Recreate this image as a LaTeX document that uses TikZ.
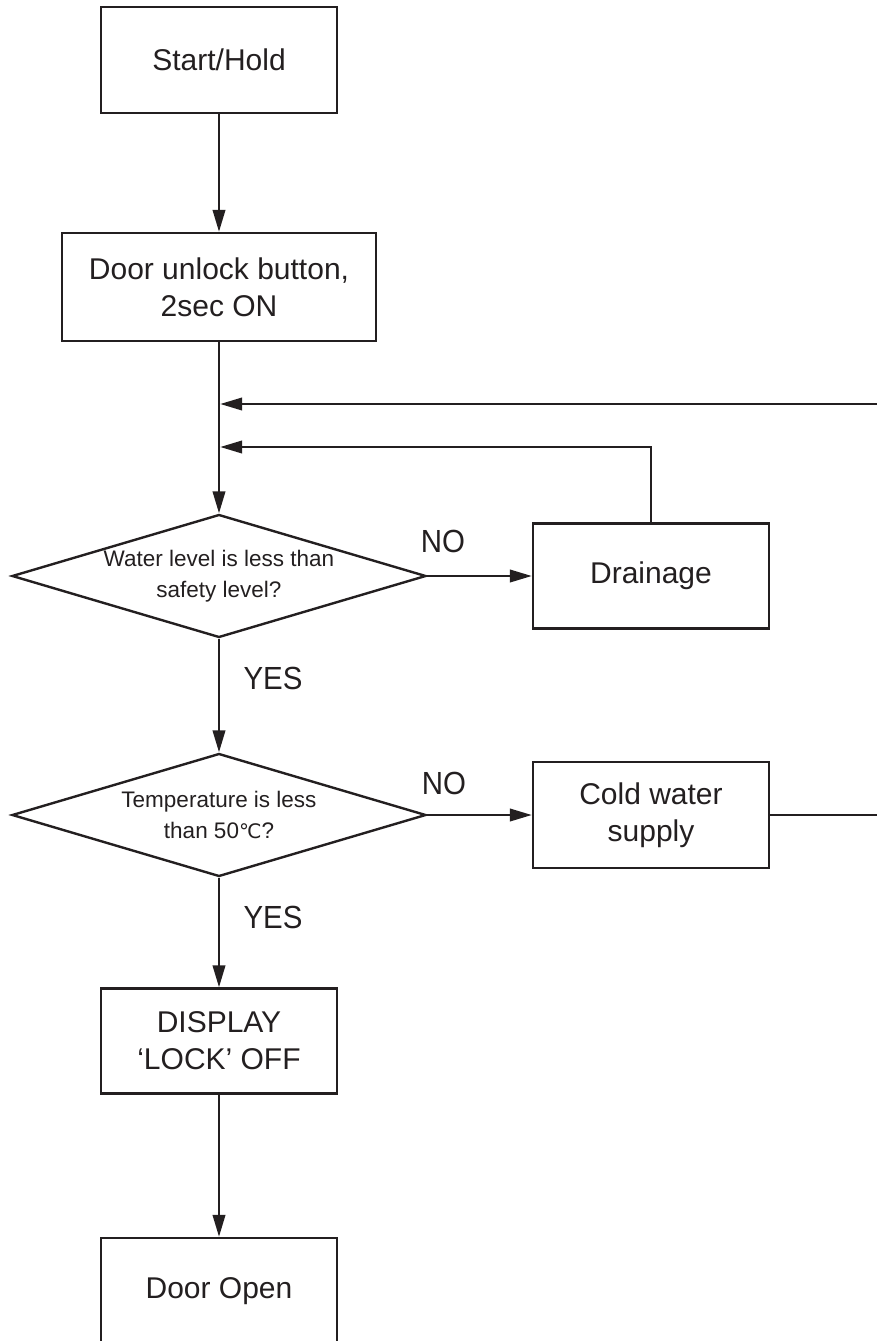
\documentclass[tikz,border=0pt]{standalone}
\usepackage{fontspec}
\setmainfont{Liberation Sans}
\newfontfamily\tagfont[FakeStretch=0.92]{Liberation Sans}
\newfontfamily\degfont{DejaVu Sans}
\usetikzlibrary{arrows.meta,shapes.geometric}
\definecolor{fink}{HTML}{231F20}

\begin{document}
\begin{tikzpicture}[x=1pt, y=-1pt, line width=2.4pt, color=fink,
  box/.style={draw, rectangle, minimum width=236pt, minimum height=106pt,
    inner sep=0pt, align=center, font=\fontsize{30}{37}\selectfont},
  decision/.style={draw, diamond, aspect=3.37, minimum width=414pt,
    minimum height=123pt, inner sep=0pt, align=center,
    font=\fontsize{22.5}{31.5}\selectfont},
  tag/.style={inner sep=0pt, font=\tagfont\fontsize{32}{36}\selectfont},
  flow/.style={-{Triangle[length=22pt,width=12.5pt]}}]
\useasboundingbox (0,0) rectangle (877,1341);
% ---- main column ----
\node[box] (start) at (219,60) {Start/Hold};
\node[box, minimum width=314pt, minimum height=108pt] (unlock) at (219,287)
   {Door unlock button,\\2sec ON};
\node[decision] (qlevel) at (219,576) {Water level is less than\\safety level?};
\node[decision] (qtemp) at (219,815)
   {Temperature is less\\than 50{\degfont\fontsize{20}{31.5}\selectfont ℃}?};
\node[box, minimum height=105pt] (display) at (219,1041) {DISPLAY\\‘LOCK’ OFF};
\node[box] (open) at (219,1291) {Door Open};
% ---- side branch ----
\node[box, minimum height=105pt] (drain) at (651,576) {Drainage};
\node[box] (cold) at (651,815) {Cold water\\supply};
% ---- answers ----
\node[tag] (nolevel) at (443,541) {NO};
\node[tag] (yeslevel) at (273,678) {YES};
\node[tag] (notemp) at (444,783) {NO};
\node[tag] (yestemp) at (273,917) {YES};
% ---- return points ----
\coordinate (join1) at (220.2,404);
\coordinate (join2) at (220.2,447);
\coordinate (loopin) at (877,404);
\coordinate (loopout) at (877,815);
% ---- connectors ----
\draw[flow] (start) -- (unlock);
\draw[flow] (unlock) -- (qlevel);
\draw[flow] (qlevel) -- (drain);
\draw[flow] (qlevel) -- (qtemp);
\draw[flow] (qtemp) -- (cold);
\draw[flow] (qtemp) -- (display);
\draw[flow] (display) -- (open);
\draw[flow] (drain.north) |- (join2);
\draw[flow] (loopin) -- (join1);
\draw (cold) -- (loopout);
\end{tikzpicture}
\end{document}
